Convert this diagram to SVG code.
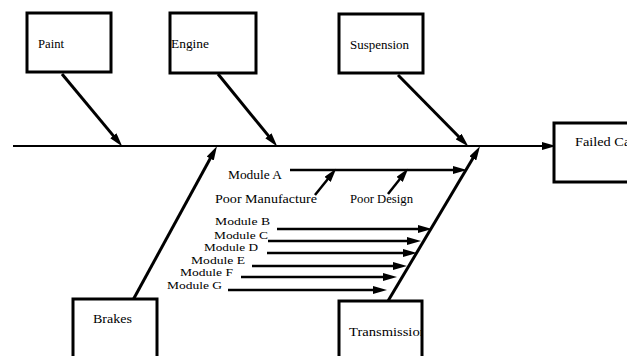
<svg xmlns="http://www.w3.org/2000/svg" width="627" height="356" viewBox="0 0 627 356">
  <style>
    .box { fill: #fff; stroke: #000; stroke-width: 3; }
    .lbl { font-family: "Liberation Serif", "Times New Roman", serif; font-size: 12px; fill: #000; }
    .mod { font-size: 11px; }
    .bone { stroke: #000; stroke-width: 3; fill: none; marker-end: url(#head); }
    .rib { stroke: #000; stroke-width: 2.5; fill: none; marker-end: url(#head); }
    .spine { stroke: #000; stroke-width: 2; fill: none; marker-end: url(#head); }
  </style>
  <defs>
    <marker id="head" markerUnits="userSpaceOnUse" markerWidth="14" markerHeight="8" refX="6" refY="4" orient="auto">
      <path d="M0,0 L14,4 L0,8 Z" fill="#000"/>
    </marker>
    <clipPath id="clipTrans"><rect x="339" y="301" width="83" height="60"/></clipPath>
  </defs>
  <rect width="627" height="356" fill="#fff"/>

  <g id="connectors">
    <!-- main spine -->
    <line class="spine" x1="13" y1="146" x2="548" y2="146"/>
    <!-- cause bones -->
    <line class="bone" x1="62" y1="74" x2="117.2" y2="140.4"/>
    <line class="bone" x1="218" y1="74" x2="272.2" y2="140.4"/>
    <line class="bone" x1="398" y1="75" x2="462.8" y2="140.7"/>
    <line class="bone" x1="133" y1="300" x2="213.1" y2="153.3"/>
    <line class="bone" x1="388" y1="301" x2="475.9" y2="153.2"/>
    <!-- module ribs -->
    <line class="rib" x1="290" y1="170" x2="459" y2="170"/>
    <line class="rib" x1="315" y1="195" x2="331.3" y2="174.7"/>
    <line class="rib" x1="388" y1="194" x2="403.3" y2="174.7"/>
    <line class="rib" x1="277" y1="229" x2="424" y2="229"/>
    <line class="rib" x1="268" y1="241" x2="413" y2="241"/>
    <line class="rib" x1="267" y1="253" x2="409" y2="253"/>
    <line class="rib" x1="252" y1="266" x2="399" y2="266"/>
    <line class="rib" x1="241" y1="277" x2="389" y2="277"/>
    <line class="rib" x1="228" y1="290" x2="379" y2="290"/>
  </g>

  <g id="paint">
    <rect class="box" x="27" y="13" width="84" height="59"/>
    <text class="lbl" x="38" y="48" textLength="26" lengthAdjust="spacingAndGlyphs">Paint</text>
  </g>
  <g id="engine">
    <rect class="box" x="170" y="13" width="86" height="60"/>
    <text class="lbl" x="171" y="48" textLength="38" lengthAdjust="spacingAndGlyphs">Engine</text>
  </g>
  <g id="suspension">
    <rect class="box" x="339" y="14" width="84" height="59"/>
    <text class="lbl" x="350" y="49" textLength="59" lengthAdjust="spacingAndGlyphs">Suspension</text>
  </g>
  <g id="failed-car">
    <rect class="box" x="554" y="123" width="90" height="59"/>
    <text class="lbl" x="575" y="146" textLength="60" lengthAdjust="spacingAndGlyphs">Failed Car</text>
  </g>
  <g id="brakes">
    <rect class="box" x="73" y="299" width="84" height="70"/>
    <text class="lbl" x="93" y="323" textLength="39" lengthAdjust="spacingAndGlyphs">Brakes</text>
  </g>
  <g id="transmission">
    <rect class="box" x="339" y="301" width="83" height="70"/>
    <text class="lbl" x="349" y="336" textLength="78" lengthAdjust="spacingAndGlyphs" clip-path="url(#clipTrans)">Transmission</text>
  </g>

  <g id="modules">
    <text class="lbl" x="228" y="179" textLength="54" lengthAdjust="spacingAndGlyphs">Module A</text>
    <text class="lbl" x="215" y="203" textLength="102" lengthAdjust="spacingAndGlyphs">Poor  Manufacture</text>
    <text class="lbl" x="350" y="203" textLength="63" lengthAdjust="spacingAndGlyphs">Poor Design</text>
    <text class="lbl mod" x="215" y="225" textLength="55" lengthAdjust="spacingAndGlyphs">Module B</text>
    <text class="lbl mod" x="214" y="239" textLength="54" lengthAdjust="spacingAndGlyphs">Module C</text>
    <text class="lbl mod" x="204" y="251" textLength="54" lengthAdjust="spacingAndGlyphs">Module D</text>
    <text class="lbl mod" x="191" y="264" textLength="54" lengthAdjust="spacingAndGlyphs">Module E</text>
    <text class="lbl mod" x="180" y="276" textLength="53" lengthAdjust="spacingAndGlyphs">Module F</text>
    <text class="lbl mod" x="167" y="289" textLength="55" lengthAdjust="spacingAndGlyphs">Module G</text>
  </g>
</svg>
